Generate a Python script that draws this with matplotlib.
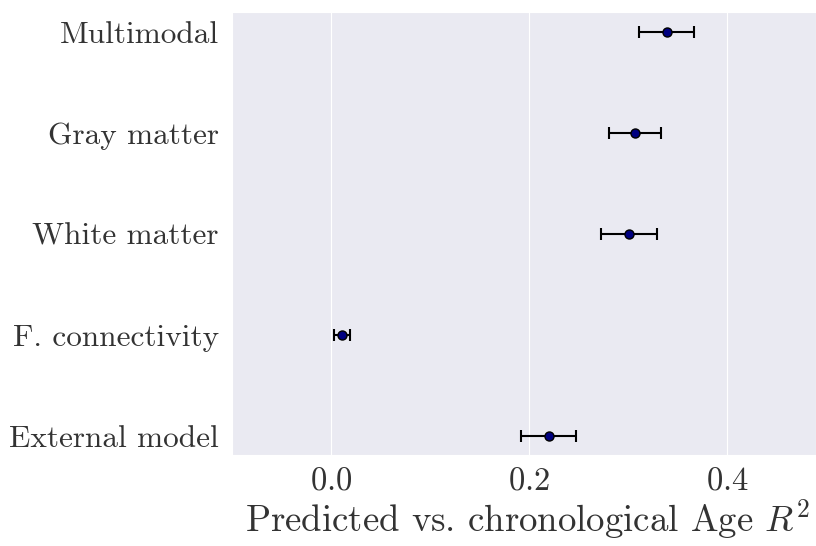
import numpy as np
import matplotlib
matplotlib.use("Agg")
import matplotlib.pyplot as plt
import seaborn as sns

sns.set_style("darkgrid")
plt.rcParams['font.family'] = 'serif'
plt.rcParams['font.serif'] = ['cmr10']
plt.rcParams['mathtext.fontset'] = 'cm'
plt.rcParams['axes.unicode_minus'] = False
plt.rcParams['axes.formatter.use_mathtext'] = True

# data
models = ["Multimodal", "Gray matter", "White matter",
          "F. connectivity", "External model"]
r2 = [0.339, 0.307, 0.301, 0.011, 0.220]
err = [0.028, 0.026, 0.028, 0.008, 0.028]
xticks = [0.0, 0.2, 0.4]

fig = plt.figure(figsize=(8.16, 5.46), dpi=100)
ax = fig.add_axes([0.2843, 0.1667, 0.7157, 0.8113])

ypos = np.arange(len(models))
ax.errorbar(r2, ypos, xerr=err, fmt='o', color='black', ecolor='black',
            markerfacecolor='navy', markeredgecolor='black', markersize=6.5,
            elinewidth=1.5, capsize=4, capthick=1.5)

ax.set_yticks(ypos)
ax.set_yticklabels(models)
ax.set_ylim(4.19, -0.2)
ax.set_xlim(-0.1, 0.49)
ax.set_xticks(xticks)
ax.grid(axis='y', visible=False)
ax.tick_params(axis='y', labelsize=22.5, pad=6, labelcolor='#333333')
ax.tick_params(axis='x', labelsize=23.5, pad=5, labelcolor='#333333')
ax.set_xlabel(r"Predicted vs. chronological Age $R^2$", fontsize=26.5,
              labelpad=1, color='#333333')
ax.xaxis.label.set_x(0.506)

fig.savefig("out.png", dpi=100)
